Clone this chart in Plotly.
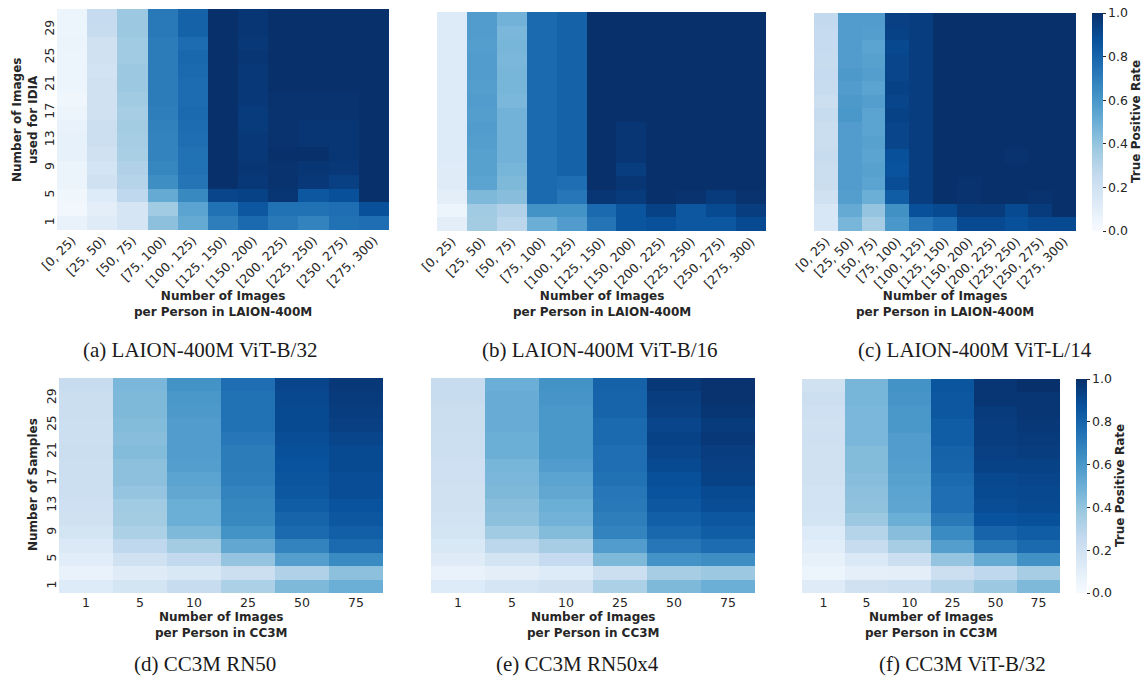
import numpy as np
import plotly.graph_objects as go
import plotly.colors as pc

W, H = 1143, 687

# ---------------- data ----------------
laion_bins = ["[0, 25)", "[25, 50)", "[50, 75)", "[75, 100)", "[100, 125)", "[125, 150)",
              "[150, 200)", "[200, 225)", "[225, 250)", "[250, 275)", "[275, 300)"]
cc3m_bins = ["1", "5", "10", "25", "50", "75"]
n_images = [1, 3, 5, 7, 9, 11, 13, 15, 17, 19, 21, 23, 25, 27, 29, 31]
y_ticks = [1, 5, 9, 13, 17, 21, 25, 29]

# each list: one column (x bin), values from bottom (1) to top (31)
laion_b32 = [
    [0.07, 0.03, 0.04, 0.06, 0.06, 0.08, 0.08, 0.07, 0.05, 0.04, 0.05, 0.05, 0.05, 0.06, 0.05, 0.05],
    [0.12, 0.10, 0.13, 0.20, 0.18, 0.20, 0.22, 0.22, 0.20, 0.20, 0.20, 0.19, 0.20, 0.20, 0.24, 0.25],
    [0.17, 0.17, 0.27, 0.30, 0.32, 0.34, 0.35, 0.36, 0.35, 0.37, 0.38, 0.38, 0.37, 0.37, 0.38, 0.38],
    [0.42, 0.37, 0.52, 0.64, 0.67, 0.68, 0.68, 0.69, 0.70, 0.71, 0.71, 0.71, 0.71, 0.71, 0.72, 0.72],
    [0.52, 0.55, 0.66, 0.74, 0.75, 0.75, 0.76, 0.77, 0.78, 0.77, 0.77, 0.78, 0.79, 0.77, 0.81, 0.81],
    [0.70, 0.75, 0.92, 1.00, 1.00, 1.00, 1.00, 1.00, 1.00, 1.00, 1.00, 1.00, 1.00, 1.00, 1.00, 1.00],
    [0.78, 0.85, 0.93, 0.97, 0.98, 0.97, 0.97, 0.96, 0.96, 0.97, 0.97, 0.97, 0.98, 0.97, 0.98, 0.98],
    [0.72, 0.75, 0.98, 0.99, 0.99, 1.00, 0.99, 0.99, 0.99, 0.99, 1.00, 1.00, 1.00, 1.00, 1.00, 1.00],
    [0.68, 0.75, 0.85, 0.97, 0.98, 1.00, 0.98, 0.98, 0.99, 0.99, 1.00, 1.00, 1.00, 1.00, 1.00, 1.00],
    [0.75, 0.76, 0.88, 0.94, 0.97, 0.98, 0.98, 0.98, 0.99, 0.99, 1.00, 1.00, 1.00, 1.00, 1.00, 1.00],
    [0.76, 0.88, 1.00, 1.00, 1.00, 1.00, 1.00, 1.00, 1.00, 1.00, 1.00, 1.00, 1.00, 1.00, 1.00, 1.00],
]
laion_b16 = [
    [0.10, 0.05, 0.10, 0.12, 0.12, 0.13, 0.13, 0.13, 0.13, 0.13, 0.13, 0.13, 0.13, 0.13, 0.13, 0.13],
    [0.36, 0.37, 0.45, 0.55, 0.56, 0.56, 0.57, 0.58, 0.57, 0.58, 0.57, 0.58, 0.58, 0.57, 0.58, 0.58],
    [0.28, 0.32, 0.43, 0.45, 0.47, 0.48, 0.48, 0.48, 0.48, 0.46, 0.47, 0.47, 0.46, 0.47, 0.46, 0.48],
    [0.50, 0.62, 0.78, 0.78, 0.78, 0.78, 0.78, 0.78, 0.78, 0.78, 0.78, 0.78, 0.78, 0.78, 0.78, 0.78],
    [0.58, 0.62, 0.73, 0.76, 0.81, 0.81, 0.81, 0.81, 0.81, 0.81, 0.81, 0.81, 0.81, 0.81, 0.81, 0.81],
    [0.74, 0.78, 0.98, 1.00, 1.00, 1.00, 1.00, 1.00, 1.00, 1.00, 1.00, 1.00, 1.00, 1.00, 1.00, 1.00],
    [0.86, 0.86, 0.96, 0.98, 0.95, 0.98, 0.98, 0.98, 1.00, 1.00, 1.00, 1.00, 1.00, 1.00, 1.00, 1.00],
    [0.88, 0.93, 1.00, 1.00, 1.00, 1.00, 1.00, 1.00, 1.00, 1.00, 1.00, 1.00, 1.00, 1.00, 1.00, 1.00],
    [0.85, 0.85, 0.99, 1.00, 1.00, 1.00, 1.00, 1.00, 1.00, 1.00, 1.00, 1.00, 1.00, 1.00, 1.00, 1.00],
    [0.85, 0.90, 0.96, 1.00, 1.00, 1.00, 1.00, 1.00, 1.00, 1.00, 1.00, 1.00, 1.00, 1.00, 1.00, 1.00],
    [0.90, 0.95, 0.99, 1.00, 1.00, 1.00, 1.00, 1.00, 1.00, 1.00, 1.00, 1.00, 1.00, 1.00, 1.00, 1.00],
]
laion_l14 = [
    [0.16, 0.16, 0.20, 0.23, 0.23, 0.24, 0.23, 0.23, 0.24, 0.22, 0.24, 0.25, 0.24, 0.25, 0.25, 0.26],
    [0.47, 0.52, 0.57, 0.58, 0.58, 0.58, 0.58, 0.58, 0.60, 0.59, 0.58, 0.59, 0.58, 0.58, 0.58, 0.58],
    [0.35, 0.40, 0.50, 0.55, 0.56, 0.55, 0.56, 0.55, 0.55, 0.57, 0.55, 0.57, 0.56, 0.55, 0.57, 0.58],
    [0.60, 0.63, 0.83, 0.89, 0.87, 0.88, 0.92, 0.92, 0.93, 0.92, 0.93, 0.92, 0.92, 0.91, 0.93, 0.94],
    [0.73, 0.88, 0.95, 0.95, 0.95, 0.95, 0.95, 0.95, 0.95, 0.95, 0.95, 0.95, 0.95, 0.95, 0.95, 0.95],
    [0.78, 0.90, 1.00, 1.00, 1.00, 1.00, 1.00, 1.00, 1.00, 1.00, 1.00, 1.00, 1.00, 1.00, 1.00, 1.00],
    [0.90, 0.96, 0.99, 0.99, 1.00, 1.00, 1.00, 1.00, 1.00, 1.00, 1.00, 1.00, 1.00, 1.00, 1.00, 1.00],
    [0.90, 0.96, 1.00, 1.00, 1.00, 1.00, 1.00, 1.00, 1.00, 1.00, 1.00, 1.00, 1.00, 1.00, 1.00, 1.00],
    [0.88, 0.90, 1.00, 1.00, 1.00, 0.99, 1.00, 1.00, 1.00, 1.00, 1.00, 1.00, 1.00, 1.00, 1.00, 1.00],
    [0.90, 0.96, 0.99, 1.00, 1.00, 1.00, 1.00, 1.00, 1.00, 1.00, 1.00, 1.00, 1.00, 1.00, 1.00, 1.00],
    [0.90, 1.00, 1.00, 1.00, 1.00, 1.00, 1.00, 1.00, 1.00, 1.00, 1.00, 1.00, 1.00, 1.00, 1.00, 1.00],
]
cc3m_rn50 = [
    [0.13, 0.07, 0.11, 0.14, 0.18, 0.20, 0.21, 0.22, 0.22, 0.22, 0.23, 0.22, 0.22, 0.23, 0.23, 0.24],
    [0.18, 0.12, 0.20, 0.27, 0.33, 0.36, 0.37, 0.40, 0.42, 0.42, 0.44, 0.43, 0.44, 0.45, 0.45, 0.46],
    [0.24, 0.15, 0.26, 0.36, 0.45, 0.50, 0.50, 0.53, 0.55, 0.57, 0.58, 0.58, 0.58, 0.59, 0.60, 0.62],
    [0.33, 0.22, 0.40, 0.53, 0.62, 0.66, 0.67, 0.68, 0.70, 0.71, 0.71, 0.73, 0.75, 0.75, 0.75, 0.76],
    [0.45, 0.32, 0.57, 0.68, 0.78, 0.80, 0.83, 0.85, 0.86, 0.87, 0.88, 0.89, 0.90, 0.90, 0.91, 0.92],
    [0.50, 0.42, 0.65, 0.78, 0.82, 0.85, 0.87, 0.89, 0.89, 0.90, 0.90, 0.92, 0.94, 0.95, 0.96, 0.97],
]
cc3m_rn50x4 = [
    [0.13, 0.07, 0.12, 0.15, 0.18, 0.19, 0.20, 0.20, 0.21, 0.21, 0.22, 0.22, 0.23, 0.23, 0.24, 0.24],
    [0.17, 0.10, 0.18, 0.28, 0.37, 0.42, 0.43, 0.45, 0.46, 0.47, 0.50, 0.50, 0.51, 0.51, 0.51, 0.50],
    [0.20, 0.13, 0.25, 0.35, 0.44, 0.48, 0.50, 0.53, 0.55, 0.58, 0.60, 0.60, 0.60, 0.60, 0.61, 0.62],
    [0.33, 0.22, 0.45, 0.58, 0.68, 0.70, 0.72, 0.73, 0.75, 0.76, 0.76, 0.78, 0.78, 0.80, 0.80, 0.81],
    [0.45, 0.35, 0.62, 0.73, 0.79, 0.82, 0.85, 0.87, 0.88, 0.90, 0.92, 0.93, 0.92, 0.94, 0.95, 0.97],
    [0.50, 0.38, 0.64, 0.77, 0.83, 0.85, 0.89, 0.90, 0.93, 0.94, 0.95, 0.97, 0.96, 0.98, 0.99, 0.99],
]
cc3m_vitb32 = [
    [0.12, 0.05, 0.08, 0.11, 0.13, 0.18, 0.19, 0.19, 0.20, 0.20, 0.20, 0.21, 0.20, 0.21, 0.22, 0.20],
    [0.20, 0.09, 0.14, 0.24, 0.30, 0.38, 0.41, 0.42, 0.43, 0.44, 0.44, 0.46, 0.46, 0.46, 0.47, 0.47],
    [0.22, 0.10, 0.22, 0.35, 0.43, 0.50, 0.54, 0.55, 0.56, 0.57, 0.58, 0.58, 0.60, 0.60, 0.61, 0.62],
    [0.30, 0.22, 0.40, 0.57, 0.65, 0.72, 0.76, 0.76, 0.78, 0.80, 0.81, 0.83, 0.83, 0.85, 0.85, 0.86],
    [0.38, 0.27, 0.52, 0.72, 0.80, 0.87, 0.89, 0.90, 0.91, 0.93, 0.94, 0.95, 0.95, 0.96, 0.98, 0.98],
    [0.45, 0.35, 0.63, 0.78, 0.83, 0.88, 0.90, 0.91, 0.92, 0.93, 0.95, 0.96, 0.97, 0.98, 0.98, 1.00],
]

captions = ["(a) LAION-400M ViT-B/32", "(b) LAION-400M ViT-B/16", "(c) LAION-400M ViT-L/14",
            "(d) CC3M RN50", "(e) CC3M RN50x4", "(f) CC3M ViT-B/32"]

# ---------------- layout (pixels) ----------------
TXT = "#262626"
SANS = "DejaVu Sans"
SERIF = "Liberation Serif"


def xd(l, r):
    return [l / W, r / W]


def yd(t, b):
    return [1 - b / H, 1 - t / H]


panels = [
    # data, bins, (left, right, top, bottom), caption center x, caption y, coloraxis
    (laion_b32, laion_bins, (57, 389, 9, 230), 200, 350, "coloraxis"),
    (laion_b16, laion_bins, (437, 766, 12, 231), 600, 350, "coloraxis"),
    (laion_l14, laion_bins, (814, 1076, 13, 231), 975, 350, "coloraxis"),
    (cc3m_rn50, cc3m_bins, (59, 383, 378, 593), 205, 664, "coloraxis2"),
    (cc3m_rn50x4, cc3m_bins, (431, 755, 378, 593), 577, 664, "coloraxis2"),
    (cc3m_vitb32, cc3m_bins, (802, 1060, 379, 593), 962, 664, "coloraxis2"),
]

blues = pc.sequential.Blues
cscale = [[i / (len(blues) - 1), c] for i, c in enumerate(blues)]

fig = go.Figure()
annotations = []
layout = {}
for i, (data, bins, (l, r, t, b), capx, capy, cax) in enumerate(panels):
    k = "" if i == 0 else str(i + 1)
    z = np.array(data).T  # rows = n_images, cols = bins
    fig.add_trace(go.Heatmap(
        z=z, x=bins, y=n_images, coloraxis=cax,
        xaxis="x" + k, yaxis="y" + k, hoverinfo="skip",
    ))
    top = i < 3
    layout["xaxis" + k] = dict(
        domain=xd(l, r), anchor="y" + k, type="category", automargin=False,
        range=[-0.5, len(bins) - 0.5], showgrid=False, zeroline=False,
        showline=False, ticks="", tickangle=-45 if top else 0,
        tickfont=dict(family=SANS, size=12.5, color=TXT),
    )
    layout["yaxis" + k] = dict(
        domain=yd(t, b), anchor="x" + k, range=[0, 32], automargin=False,
        tickvals=y_ticks if i in (0, 3) else [],
        ticktext=[str(v) for v in y_ticks] if i in (0, 3) else [],
        showticklabels=i in (0, 3),
        showgrid=False, zeroline=False, showline=False, ticks="",
        tickangle=-90, tickfont=dict(family=SANS, size=12.5, color=TXT),
    )
    cx = (l + r) / 2
    if top:
        xt = "Number of Images<br>per Person in LAION-400M"
        ty = 304
    else:
        xt = "Number of Images<br>per Person in CC3M"
        ty = 625
    annotations.append(dict(
        text="<b>" + xt + "</b>", x=cx / W, y=1 - ty / H, xref="paper", yref="paper",
        showarrow=False, xanchor="center", yanchor="middle",
        font=dict(family=SANS, size=12, color=TXT), align="center",
    ))
    annotations.append(dict(
        text=captions[i], x=capx / W, y=1 - capy / H, xref="paper", yref="paper",
        showarrow=False, xanchor="center", yanchor="middle",
        font=dict(family=SERIF, size=21, color="#1a1a1a"),
    ))

annotations.append(dict(
    text="<b>Number of Images<br>used for IDIA</b>", x=25 / W, y=1 - 120 / H,
    xref="paper", yref="paper", showarrow=False, textangle=-90,
    xanchor="center", yanchor="middle", align="center",
    font=dict(family=SANS, size=12, color=TXT),
))
annotations.append(dict(
    text="<b>Number of Samples</b>", x=33 / W, y=1 - 485 / H,
    xref="paper", yref="paper", showarrow=False, textangle=-90,
    xanchor="center", yanchor="middle",
    font=dict(family=SANS, size=12, color=TXT),
))
# colorbar titles
for cbx, cby in ((1136, 122), (1120, 486)):
    annotations.append(dict(
        text="<b>True Positive Rate</b>", x=cbx / W, y=1 - cby / H,
        xref="paper", yref="paper", showarrow=False, textangle=-90,
        xanchor="center", yanchor="middle",
        font=dict(family=SANS, size=12, color=TXT),
    ))


def cbar(left, top, bottom):
    return dict(
        x=left / W, xanchor="left", xref="container",
        y=1 - (top + bottom) / 2 / H, yanchor="middle", yref="container",
        len=bottom - top, lenmode="pixels", thickness=11, thicknessmode="pixels",
        outlinewidth=0, ticks="outside", ticklen=3, tickwidth=1, tickcolor=TXT,
        tickvals=[0, 0.2, 0.4, 0.6, 0.8, 1.0], ticktext=["0.0", "0.2", "0.4", "0.6", "0.8", "1.0"],
        tickfont=dict(family=SANS, size=12.5, color=TXT),
        xpad=0, ypad=0,
    )


layout["coloraxis"] = dict(colorscale=cscale, cmin=0, cmax=1, colorbar=cbar(1092, 13, 231))
layout["coloraxis2"] = dict(colorscale=cscale, cmin=0, cmax=1, colorbar=cbar(1076, 379, 593))

fig.update_layout(
    width=W, height=H, margin=dict(l=0, r=0, t=0, b=0, autoexpand=False),
    paper_bgcolor="white", plot_bgcolor="white",
    annotations=annotations, showlegend=False, **layout,
)
fig.write_html("out.html", config={"displayModeBar": False},
               post_script="document.body.style.margin='0';")
